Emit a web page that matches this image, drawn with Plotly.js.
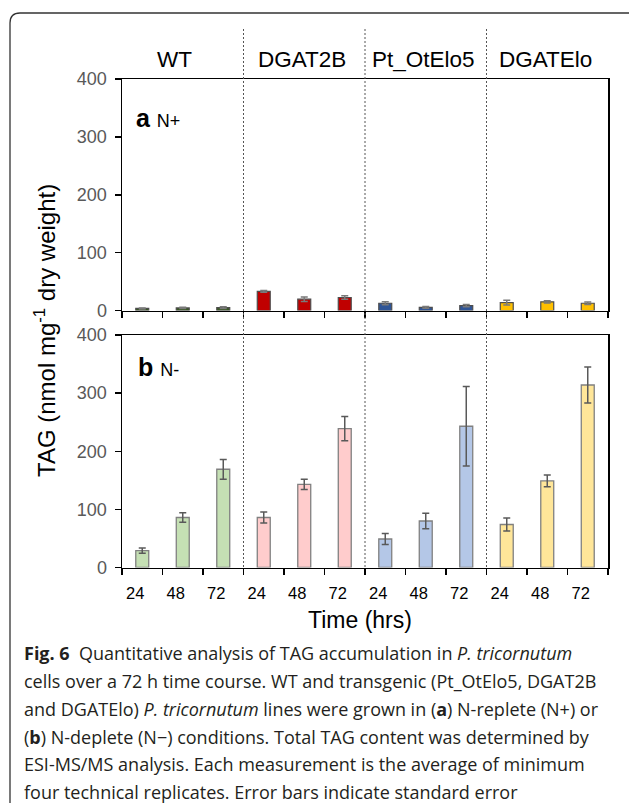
<!DOCTYPE html>
<html>
<head>
<meta charset="utf-8">
<script src="https://cdn.plot.ly/plotly-3.0.1.min.js"></script>
<style>
html,body{margin:0;padding:0;background:#fff;}
#chart{width:629px;height:803px;}
</style>
</head>
<body>
<div id="chart"></div>
<script>
// ---- data ----
const groups = ["WT", "DGAT2B", "Pt_OtElo5", "DGATElo"];
const times = ["24", "48", "72"];
// (a) N+ : TAG nmol/mg dry weight
const nPlus = [3.5, 4.5, 5, 33, 19.5, 22.5, 12.5, 5.5, 8.5, 13.5, 15, 12.5];
const nPlusErr = [1, 1, 1.5, 1.5, 4, 3, 2.5, 1.5, 2, 4, 2, 2];
// (b) N- : TAG nmol/mg dry weight
const nMinus = [29, 86, 169, 86, 143, 239, 49, 80, 243, 74, 149, 314];
const nMinusErr = [4.5, 8, 17, 9.5, 9, 21, 9.5, 13.5, 68.5, 11, 10, 31];
const colorsPlus = ["#385723", "#C00000", "#2F5597", "#FFC000"];
const colorsMinus = ["#C5E0B4", "#FFCCCC", "#B4C7E7", "#FFE699"];
const yTicks = [0, 100, 200, 300, 400];
const captionLines = [
  "<b>Fig. 6</b>\u00a0 Quantitative analysis of TAG accumulation in <i>P. tricornutum</i>",
  "cells over a 72 h time course. WT and transgenic (Pt_OtElo5, DGAT2B",
  "and DGATElo) <i>P. tricornutum</i> lines were grown in (<b>a</b>) N-replete (N+) or",
  "(<b>b</b>) N-deplete (N\u2212) conditions. Total TAG content was determined by",
  "ESI-MS/MS analysis. Each measurement is the average of minimum",
  "four technical replicates. Error bars indicate standard error"
];

// ---- derived ----
const xIds = [];
const tickText = [];
const cPlus = [];
const cMinus = [];
groups.forEach((g, gi) => {
  times.forEach(t => {
    xIds.push(g + " " + t);
    tickText.push(t);
    cPlus.push(colorsPlus[gi]);
    cMinus.push(colorsMinus[gi]);
  });
});

const W = 629, H = 803;
const px = v => v / W;
const py = v => 1 - v / H;
const FONT = "Arial, 'Liberation Sans', sans-serif";

const traces = [
  {
    type: "bar", x: xIds, y: nPlus, xaxis: "x2", yaxis: "y2", width: 0.32,
    marker: {color: cPlus, line: {color: "#4d4d4d", width: 1.2}},
    error_y: {type: "data", array: nPlusErr, visible: true, color: "#7a7a7a", thickness: 1.5, width: 3.5},
    hoverinfo: "x+y", showlegend: false
  },
  {
    type: "bar", x: xIds, y: nMinus, xaxis: "x", yaxis: "y", width: 0.32,
    marker: {color: cMinus, line: {color: "#808080", width: 1.3}},
    error_y: {type: "data", array: nMinusErr, visible: true, color: "#595959", thickness: 1.5, width: 3.5},
    hoverinfo: "x+y", showlegend: false
  }
];

const xCommon = {
  type: "category",
  categoryorder: "array", categoryarray: xIds,
  range: [-0.5, xIds.length - 0.5],
  tickmode: "array", tickvals: xIds, ticktext: tickText,
  tickson: "boundaries", ticks: "outside", ticklen: 6, tickwidth: 1.5, tickcolor: "#000",
  showline: true, linecolor: "#000", linewidth: 1.5, mirror: true,
  showgrid: false, zeroline: false, fixedrange: true,
  domain: [px(122), px(608)]
};
const yCommon = {
  range: [0, 400], tickmode: "array", tickvals: yTicks,
  ticks: "outside", ticklen: 6, tickwidth: 1.5, tickcolor: "#000",
  tickfont: {family: FONT, size: 18, color: "#595959"}, ticklabelstandoff: 4,
  showline: true, linecolor: "#000", linewidth: 1.5, mirror: true,
  showgrid: false, zeroline: false, fixedrange: true
};

const shapes = [];
// group dividers (dashed), spanning both panels
for (let gi = 1; gi < groups.length; gi++) {
  const xv = gi * times.length - 0.5;
  shapes.push({type: "line", xref: "x", yref: "paper", x0: xv, x1: xv,
    y0: py(567), y1: py(29), line: {color: "#555", width: 1, dash: "2px,2px"}, layer: "above"});
}
// figure frame (rounded top-left corner)
const fx = px(10), fy = py(13), rx = px(10), ry = 10 / H;
shapes.push({type: "path", xref: "paper", yref: "paper",
  path: `M ${fx},-0.05 L ${fx},${fy - ry} Q ${fx},${fy} ${fx + rx},${fy} L 1.05,${fy}`,
  line: {color: "#333", width: 1.3}});

const annotations = [];
groups.forEach((g, gi) => {
  annotations.push({text: g, xref: "x2", yref: "paper", x: xIds[gi * times.length + 1], y: py(60),
    xshift: gi === 0 ? -8 : -2, showarrow: false, font: {family: FONT, size: 22.5, color: "#000"},
    xanchor: "center", yanchor: "middle"});
});
annotations.push({text: "<b>a</b> <span style='font-size:18px'>N+</span>", xref: "paper", yref: "paper",
  x: px(134), y: py(118), xanchor: "left", yanchor: "middle", showarrow: false,
  font: {family: FONT, size: 25, color: "#000"}});
annotations.push({text: "<b>b</b> <span style='font-size:18px'>N-</span>", xref: "paper", yref: "paper",
  x: px(136), y: py(367), xanchor: "left", yanchor: "middle", showarrow: false,
  font: {family: FONT, size: 25, color: "#000"}});
annotations.push({text: "TAG (nmol mg<sup>-1</sup> dry weight)", xref: "paper", yref: "paper",
  x: px(45), y: py(331), textangle: -90, showarrow: false, xanchor: "center", yanchor: "middle",
  font: {family: FONT, size: 24, color: "#000"}});
annotations.push({text: "Time (hrs)", xref: "paper", yref: "paper",
  x: px(360), y: py(620), showarrow: false, xanchor: "center", yanchor: "middle",
  font: {family: FONT, size: 23, color: "#000"}});
const capY = [653, 681, 709, 737, 764, 792];
captionLines.forEach((t, i) => {
  annotations.push({text: t, xref: "paper", yref: "paper", x: px(22), y: py(capY[i]),
    xanchor: "left", yanchor: "middle", showarrow: false, align: "left",
    font: {family: "'Open Sans', 'Noto Sans', sans-serif", size: 18, color: "#231f20"}});
});

const layout = {
  width: W, height: H,
  margin: {l: 0, r: 0, t: 0, b: 0},
  paper_bgcolor: "#fff", plot_bgcolor: "#fff",
  font: {family: FONT, color: "#000"},
  showlegend: false,
  xaxis: Object.assign({}, xCommon, {anchor: "y",
    tickfont: {family: FONT, size: 16.5, color: "#000"}, ticklabelshift: -7, ticklabelstandoff: 10}),
  xaxis2: Object.assign({}, xCommon, {anchor: "y2", showticklabels: false}),
  yaxis: Object.assign({}, yCommon, {anchor: "x", domain: [py(567.5), py(335)]}),
  yaxis2: Object.assign({}, yCommon, {anchor: "x2", domain: [py(310.5), py(79)]}),
  shapes: shapes,
  annotations: annotations
};

Plotly.newPlot("chart", traces, layout, {displayModeBar: false, staticPlot: true});
</script>
</body>
</html>
